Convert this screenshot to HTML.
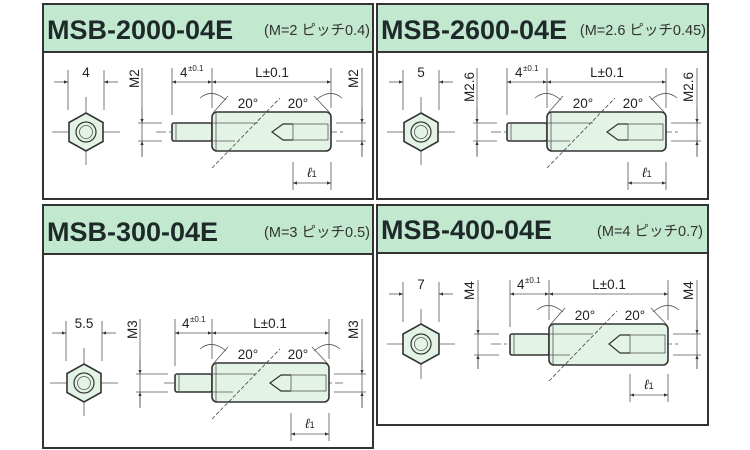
<!DOCTYPE html>
<html><head><meta charset="utf-8"><style>
html,body{margin:0;padding:0;background:#fff;width:750px;height:450px;overflow:hidden}
svg{display:block}
.t{font-family:"Liberation Sans","Noto Sans CJK JP",sans-serif;fill:#222}
.ttl{font-weight:bold;font-size:27px;fill:#1e2a2a}
.sub{font-size:14.5px;fill:#333}
.d{font-size:13.5px}
.thin{stroke:#555;stroke-width:0.8;fill:none}
.ol{stroke:#333;stroke-width:1.6;fill:#e3f3e6}
</style></head><body>
<svg width="750" height="450" viewBox="0 0 750 450" xmlns="http://www.w3.org/2000/svg">
<defs>
<marker id="a" markerWidth="6" markerHeight="6" refX="5" refY="3" orient="auto-start-reverse"><path d="M0,1 L5,3 L0,5 z" fill="#333"/></marker>
</defs>
<g stroke="#333" stroke-width="2">
<rect x="43" y="4" width="330" height="195" fill="#fff"/>
<rect x="43" y="4" width="330" height="48" fill="#c3e8d0"/>
<rect x="377" y="4" width="331" height="195" fill="#fff"/>
<rect x="377" y="4" width="331" height="48" fill="#c3e8d0"/>
<rect x="43" y="205" width="330" height="243" fill="#fff"/>
<rect x="43" y="205" width="330" height="49" fill="#c3e8d0"/>
<rect x="377" y="205" width="331" height="220" fill="#fff"/>
<rect x="377" y="205" width="331" height="48" fill="#c3e8d0"/>
</g>
<text class="t ttl" x="47" y="39">MSB-2000-04E</text>
<text class="t sub" x="370" y="35" text-anchor="end">(M=2 ピッチ0.4)</text>
<text class="t ttl" x="381" y="39">MSB-2600-04E</text>
<text class="t sub" x="706" y="35" text-anchor="end">(M=2.6 ピッチ0.45)</text>
<text class="t ttl" x="47" y="241">MSB-300-04E</text>
<text class="t sub" x="370" y="237" text-anchor="end">(M=3 ピッチ0.5)</text>
<text class="t ttl" x="381" y="239">MSB-400-04E</text>
<text class="t sub" x="703" y="236" text-anchor="end">(M=4 ピッチ0.7)</text>

<g>
<line class="thin" x1="52" y1="132" x2="120" y2="132"/><line class="thin" x1="86" y1="97" x2="86" y2="165"/>
<polygon points="86,113 103,122.5 103,141.5 86,151 69,141.5 69,122.5" stroke="#333" stroke-width="1.6" fill="#e3f3e6"/>
<circle cx="86" cy="132" r="10" stroke="#333" stroke-width="1.2" fill="#e3f3e6"/><circle cx="86" cy="132" r="6.5" class="thin"/>
<line class="thin" x1="68" y1="70" x2="68" y2="110"/><line class="thin" x1="104" y1="70" x2="104" y2="110"/>
<line class="thin" x1="54" y1="82" x2="68" y2="82" marker-end="url(#a)"/><line class="thin" x1="118" y1="82" x2="104" y2="82" marker-end="url(#a)"/>
<text class="t d" x="86" y="77" text-anchor="middle">4</text>
<line class="thin" x1="142" y1="68" x2="142" y2="157"/>
<line class="thin" x1="138" y1="123" x2="162" y2="123"/><line class="thin" x1="138" y1="141" x2="162" y2="141"/>
<line class="thin" x1="142" y1="108" x2="142" y2="123" marker-end="url(#a)"/><line class="thin" x1="142" y1="156" x2="142" y2="141" marker-end="url(#a)"/>
<line class="thin" x1="156" y1="132" x2="345" y2="132" stroke-dasharray="10 3 3 3"/>
<rect class="ol" x="172" y="123" width="40" height="18" rx="2"/>
<line class="thin" x1="176" y1="124" x2="176" y2="140"/>
<rect class="ol" x="212" y="112" width="119" height="39" rx="5"/>
<line class="thin" x1="216" y1="113" x2="216" y2="150"/>
<line class="thin" x1="212" y1="123" x2="258" y2="123"/><line class="thin" x1="212" y1="141" x2="235" y2="141"/>
<path d="M293,124 L283,124 L272,132 L283,140 L293,140" stroke="#333" stroke-width="1.2" fill="none"/>
<rect x="293" y="124" width="35" height="16" stroke="#555" stroke-width="0.8" fill="none"/>
<line x1="212" y1="168" x2="280" y2="98" stroke="#444" stroke-width="0.8" stroke-dasharray="4 2"/>
<line class="thin" x1="172" y1="68" x2="172" y2="115"/><line class="thin" x1="212" y1="68" x2="212" y2="108"/><line class="thin" x1="331" y1="68" x2="331" y2="108"/>
<line class="thin" x1="172" y1="82" x2="212" y2="82" marker-start="url(#a)" marker-end="url(#a)"/>
<line class="thin" x1="212" y1="82" x2="331" y2="82" marker-start="url(#a)" marker-end="url(#a)"/>
<text class="t d" x="180" y="77">4</text><text class="t" x="188" y="71" font-size="8">±0.1</text>
<text class="t d" x="272" y="77" text-anchor="middle">L±0.1</text>
<path d="M200,98 Q212,88 226,100" class="thin"/><line class="thin" x1="213" y1="113" x2="228" y2="96"/>
<path d="M342,98 Q330,88 316,100" class="thin"/><line class="thin" x1="330" y1="113" x2="314" y2="96"/>
<text class="t d" x="248" y="108" text-anchor="middle">20°</text>
<text class="t d" x="298" y="108" text-anchor="middle">20°</text>
<line class="thin" x1="362" y1="68" x2="362" y2="157"/>
<line class="thin" x1="336" y1="123" x2="366" y2="123"/><line class="thin" x1="336" y1="141" x2="366" y2="141"/>
<line class="thin" x1="362" y1="108" x2="362" y2="123" marker-end="url(#a)"/><line class="thin" x1="362" y1="156" x2="362" y2="141" marker-end="url(#a)"/>
<line class="thin" x1="293" y1="162" x2="293" y2="190"/><line class="thin" x1="331" y1="162" x2="331" y2="190"/>
<line class="thin" x1="293" y1="183" x2="331" y2="183" marker-start="url(#a)" marker-end="url(#a)"/>
<text class="t d" x="312" y="177" text-anchor="middle" font-style="italic">ℓ<tspan font-size="9" font-style="normal">1</tspan></text>
</g>
<text class="t d" transform="translate(139,88) rotate(-90)">M2</text>
<text class="t d" transform="translate(358,88) rotate(-90)">M2</text>

<g transform="translate(335,0)">
<line class="thin" x1="52" y1="132" x2="120" y2="132"/><line class="thin" x1="86" y1="97" x2="86" y2="165"/>
<polygon points="86,113 103,122.5 103,141.5 86,151 69,141.5 69,122.5" stroke="#333" stroke-width="1.6" fill="#e3f3e6"/>
<circle cx="86" cy="132" r="10" stroke="#333" stroke-width="1.2" fill="#e3f3e6"/><circle cx="86" cy="132" r="6.5" class="thin"/>
<line class="thin" x1="68" y1="70" x2="68" y2="110"/><line class="thin" x1="104" y1="70" x2="104" y2="110"/>
<line class="thin" x1="54" y1="82" x2="68" y2="82" marker-end="url(#a)"/><line class="thin" x1="118" y1="82" x2="104" y2="82" marker-end="url(#a)"/>
<text class="t d" x="86" y="77" text-anchor="middle">5</text>
<line class="thin" x1="142" y1="68" x2="142" y2="157"/>
<line class="thin" x1="138" y1="123" x2="162" y2="123"/><line class="thin" x1="138" y1="141" x2="162" y2="141"/>
<line class="thin" x1="142" y1="108" x2="142" y2="123" marker-end="url(#a)"/><line class="thin" x1="142" y1="156" x2="142" y2="141" marker-end="url(#a)"/>
<line class="thin" x1="156" y1="132" x2="345" y2="132" stroke-dasharray="10 3 3 3"/>
<rect class="ol" x="172" y="123" width="40" height="18" rx="2"/>
<line class="thin" x1="176" y1="124" x2="176" y2="140"/>
<rect class="ol" x="212" y="112" width="119" height="39" rx="5"/>
<line class="thin" x1="216" y1="113" x2="216" y2="150"/>
<line class="thin" x1="212" y1="123" x2="258" y2="123"/><line class="thin" x1="212" y1="141" x2="235" y2="141"/>
<path d="M293,124 L283,124 L272,132 L283,140 L293,140" stroke="#333" stroke-width="1.2" fill="none"/>
<rect x="293" y="124" width="35" height="16" stroke="#555" stroke-width="0.8" fill="none"/>
<line x1="212" y1="168" x2="280" y2="98" stroke="#444" stroke-width="0.8" stroke-dasharray="4 2"/>
<line class="thin" x1="172" y1="68" x2="172" y2="115"/><line class="thin" x1="212" y1="68" x2="212" y2="108"/><line class="thin" x1="331" y1="68" x2="331" y2="108"/>
<line class="thin" x1="172" y1="82" x2="212" y2="82" marker-start="url(#a)" marker-end="url(#a)"/>
<line class="thin" x1="212" y1="82" x2="331" y2="82" marker-start="url(#a)" marker-end="url(#a)"/>
<text class="t d" x="180" y="77">4</text><text class="t" x="188" y="71" font-size="8">±0.1</text>
<text class="t d" x="272" y="77" text-anchor="middle">L±0.1</text>
<path d="M200,98 Q212,88 226,100" class="thin"/><line class="thin" x1="213" y1="113" x2="228" y2="96"/>
<path d="M342,98 Q330,88 316,100" class="thin"/><line class="thin" x1="330" y1="113" x2="314" y2="96"/>
<text class="t d" x="248" y="108" text-anchor="middle">20°</text>
<text class="t d" x="298" y="108" text-anchor="middle">20°</text>
<line class="thin" x1="362" y1="68" x2="362" y2="157"/>
<line class="thin" x1="336" y1="123" x2="366" y2="123"/><line class="thin" x1="336" y1="141" x2="366" y2="141"/>
<line class="thin" x1="362" y1="108" x2="362" y2="123" marker-end="url(#a)"/><line class="thin" x1="362" y1="156" x2="362" y2="141" marker-end="url(#a)"/>
<line class="thin" x1="293" y1="162" x2="293" y2="190"/><line class="thin" x1="331" y1="162" x2="331" y2="190"/>
<line class="thin" x1="293" y1="183" x2="331" y2="183" marker-start="url(#a)" marker-end="url(#a)"/>
<text class="t d" x="312" y="177" text-anchor="middle" font-style="italic">ℓ<tspan font-size="9" font-style="normal">1</tspan></text>
<text class="t d" transform="translate(139,102) rotate(-90)">M2.6</text>
<text class="t d" transform="translate(358,102) rotate(-90)">M2.6</text>
</g>

<g transform="translate(-2,251)">
<line class="thin" x1="52" y1="132" x2="120" y2="132"/><line class="thin" x1="86" y1="97" x2="86" y2="165"/>
<polygon points="86,113 103,122.5 103,141.5 86,151 69,141.5 69,122.5" stroke="#333" stroke-width="1.6" fill="#e3f3e6"/>
<circle cx="86" cy="132" r="10" stroke="#333" stroke-width="1.2" fill="#e3f3e6"/><circle cx="86" cy="132" r="6.5" class="thin"/>
<line class="thin" x1="68" y1="70" x2="68" y2="110"/><line class="thin" x1="104" y1="70" x2="104" y2="110"/>
<line class="thin" x1="54" y1="82" x2="68" y2="82" marker-end="url(#a)"/><line class="thin" x1="118" y1="82" x2="104" y2="82" marker-end="url(#a)"/>
<text class="t d" x="86" y="77" text-anchor="middle">5.5</text>
<line class="thin" x1="142" y1="68" x2="142" y2="157"/>
<line class="thin" x1="138" y1="123" x2="170" y2="123"/><line class="thin" x1="138" y1="141" x2="170" y2="141"/>
<line class="thin" x1="142" y1="108" x2="142" y2="123" marker-end="url(#a)"/><line class="thin" x1="142" y1="156" x2="142" y2="141" marker-end="url(#a)"/>
<line class="thin" x1="166" y1="132" x2="345" y2="132" stroke-dasharray="10 3 3 3"/>
<rect class="ol" x="177" y="123" width="37" height="18" rx="2"/>
<line class="thin" x1="181" y1="124" x2="181" y2="140"/>
<rect class="ol" x="214" y="112" width="117" height="39" rx="5"/>
<line class="thin" x1="218" y1="113" x2="218" y2="150"/>
<line class="thin" x1="214" y1="123" x2="258" y2="123"/><line class="thin" x1="214" y1="141" x2="235" y2="141"/>
<path d="M293,124 L283,124 L272,132 L283,140 L293,140" stroke="#333" stroke-width="1.2" fill="none"/>
<rect x="293" y="124" width="35" height="16" stroke="#555" stroke-width="0.8" fill="none"/>
<line x1="214" y1="168" x2="282" y2="98" stroke="#444" stroke-width="0.8" stroke-dasharray="4 2"/>
<line class="thin" x1="177" y1="68" x2="177" y2="115"/><line class="thin" x1="214" y1="68" x2="214" y2="108"/><line class="thin" x1="331" y1="68" x2="331" y2="108"/>
<line class="thin" x1="177" y1="82" x2="214" y2="82" marker-start="url(#a)" marker-end="url(#a)"/>
<line class="thin" x1="214" y1="82" x2="331" y2="82" marker-start="url(#a)" marker-end="url(#a)"/>
<text class="t d" x="184" y="77">4</text><text class="t" x="192" y="71" font-size="8">±0.1</text>
<text class="t d" x="272" y="77" text-anchor="middle">L±0.1</text>
<path d="M202,98 Q214,88 228,100" class="thin"/><line class="thin" x1="215" y1="113" x2="230" y2="96"/>
<path d="M342,98 Q330,88 316,100" class="thin"/><line class="thin" x1="330" y1="113" x2="314" y2="96"/>
<text class="t d" x="250" y="108" text-anchor="middle">20°</text>
<text class="t d" x="300" y="108" text-anchor="middle">20°</text>
<line class="thin" x1="364" y1="68" x2="364" y2="157"/>
<line class="thin" x1="336" y1="123" x2="368" y2="123"/><line class="thin" x1="336" y1="141" x2="368" y2="141"/>
<line class="thin" x1="364" y1="108" x2="364" y2="123" marker-end="url(#a)"/><line class="thin" x1="364" y1="156" x2="364" y2="141" marker-end="url(#a)"/>
<line class="thin" x1="293" y1="162" x2="293" y2="190"/><line class="thin" x1="331" y1="162" x2="331" y2="190"/>
<line class="thin" x1="293" y1="183" x2="331" y2="183" marker-start="url(#a)" marker-end="url(#a)"/>
<text class="t d" x="312" y="177" text-anchor="middle" font-style="italic">ℓ<tspan font-size="9" font-style="normal">1</tspan></text>
<text class="t d" transform="translate(139,88) rotate(-90)">M3</text>
<text class="t d" transform="translate(360,88) rotate(-90)">M3</text>
</g>

<g transform="translate(335,212)">
<line class="thin" x1="52" y1="132" x2="120" y2="132"/><line class="thin" x1="86" y1="97" x2="86" y2="167"/>
<polygon points="86,112 104,122 104,142 86,152 68,142 68,122" stroke="#333" stroke-width="1.6" fill="#e3f3e6"/>
<circle cx="86" cy="132" r="10" stroke="#333" stroke-width="1.2" fill="#e3f3e6"/><circle cx="86" cy="132" r="6.5" class="thin"/>
<line class="thin" x1="68" y1="70" x2="68" y2="110"/><line class="thin" x1="104" y1="70" x2="104" y2="110"/>
<line class="thin" x1="54" y1="82" x2="68" y2="82" marker-end="url(#a)"/><line class="thin" x1="118" y1="82" x2="104" y2="82" marker-end="url(#a)"/>
<text class="t d" x="86" y="77" text-anchor="middle">7</text>
<line class="thin" x1="143" y1="68" x2="143" y2="157"/>
<line class="thin" x1="139" y1="122" x2="164" y2="122"/><line class="thin" x1="139" y1="143" x2="164" y2="143"/>
<line class="thin" x1="143" y1="108" x2="143" y2="122" marker-end="url(#a)"/><line class="thin" x1="143" y1="157" x2="143" y2="143" marker-end="url(#a)"/>
<line class="thin" x1="156" y1="132" x2="345" y2="132" stroke-dasharray="10 3 3 3"/>
<rect class="ol" x="175" y="122" width="39" height="21" rx="2"/>
<line class="thin" x1="179" y1="123" x2="179" y2="142"/>
<rect class="ol" x="214" y="112" width="119" height="41" rx="5"/>
<line class="thin" x1="218" y1="113" x2="218" y2="152"/>
<line class="thin" x1="214" y1="122" x2="258" y2="122"/><line class="thin" x1="214" y1="143" x2="235" y2="143"/>
<path d="M295,123 L285,123 L274,132 L285,141 L295,141" stroke="#333" stroke-width="1.2" fill="none"/>
<rect x="295" y="123" width="35" height="18" stroke="#555" stroke-width="0.8" fill="none"/>
<line x1="214" y1="169" x2="282" y2="99" stroke="#444" stroke-width="0.8" stroke-dasharray="4 2"/>
<line class="thin" x1="175" y1="68" x2="175" y2="115"/><line class="thin" x1="214" y1="68" x2="214" y2="108"/><line class="thin" x1="333" y1="68" x2="333" y2="108"/>
<line class="thin" x1="175" y1="82" x2="214" y2="82" marker-start="url(#a)" marker-end="url(#a)"/>
<line class="thin" x1="214" y1="82" x2="333" y2="82" marker-start="url(#a)" marker-end="url(#a)"/>
<text class="t d" x="182" y="77">4</text><text class="t" x="190" y="71" font-size="8">±0.1</text>
<text class="t d" x="274" y="77" text-anchor="middle">L±0.1</text>
<path d="M202,98 Q214,88 228,100" class="thin"/><line class="thin" x1="215" y1="113" x2="230" y2="96"/>
<path d="M344,98 Q332,88 318,100" class="thin"/><line class="thin" x1="332" y1="113" x2="316" y2="96"/>
<text class="t d" x="250" y="108" text-anchor="middle">20°</text>
<text class="t d" x="300" y="108" text-anchor="middle">20°</text>
<line class="thin" x1="362" y1="68" x2="362" y2="157"/>
<line class="thin" x1="338" y1="122" x2="366" y2="122"/><line class="thin" x1="338" y1="143" x2="366" y2="143"/>
<line class="thin" x1="362" y1="108" x2="362" y2="122" marker-end="url(#a)"/><line class="thin" x1="362" y1="157" x2="362" y2="143" marker-end="url(#a)"/>
<line class="thin" x1="295" y1="162" x2="295" y2="190"/><line class="thin" x1="333" y1="162" x2="333" y2="190"/>
<line class="thin" x1="295" y1="183" x2="333" y2="183" marker-start="url(#a)" marker-end="url(#a)"/>
<text class="t d" x="314" y="177" text-anchor="middle" font-style="italic">ℓ<tspan font-size="9" font-style="normal">1</tspan></text>
<text class="t d" transform="translate(139,88) rotate(-90)">M4</text>
<text class="t d" transform="translate(358,88) rotate(-90)">M4</text>
</g>
</svg>
</body></html>
